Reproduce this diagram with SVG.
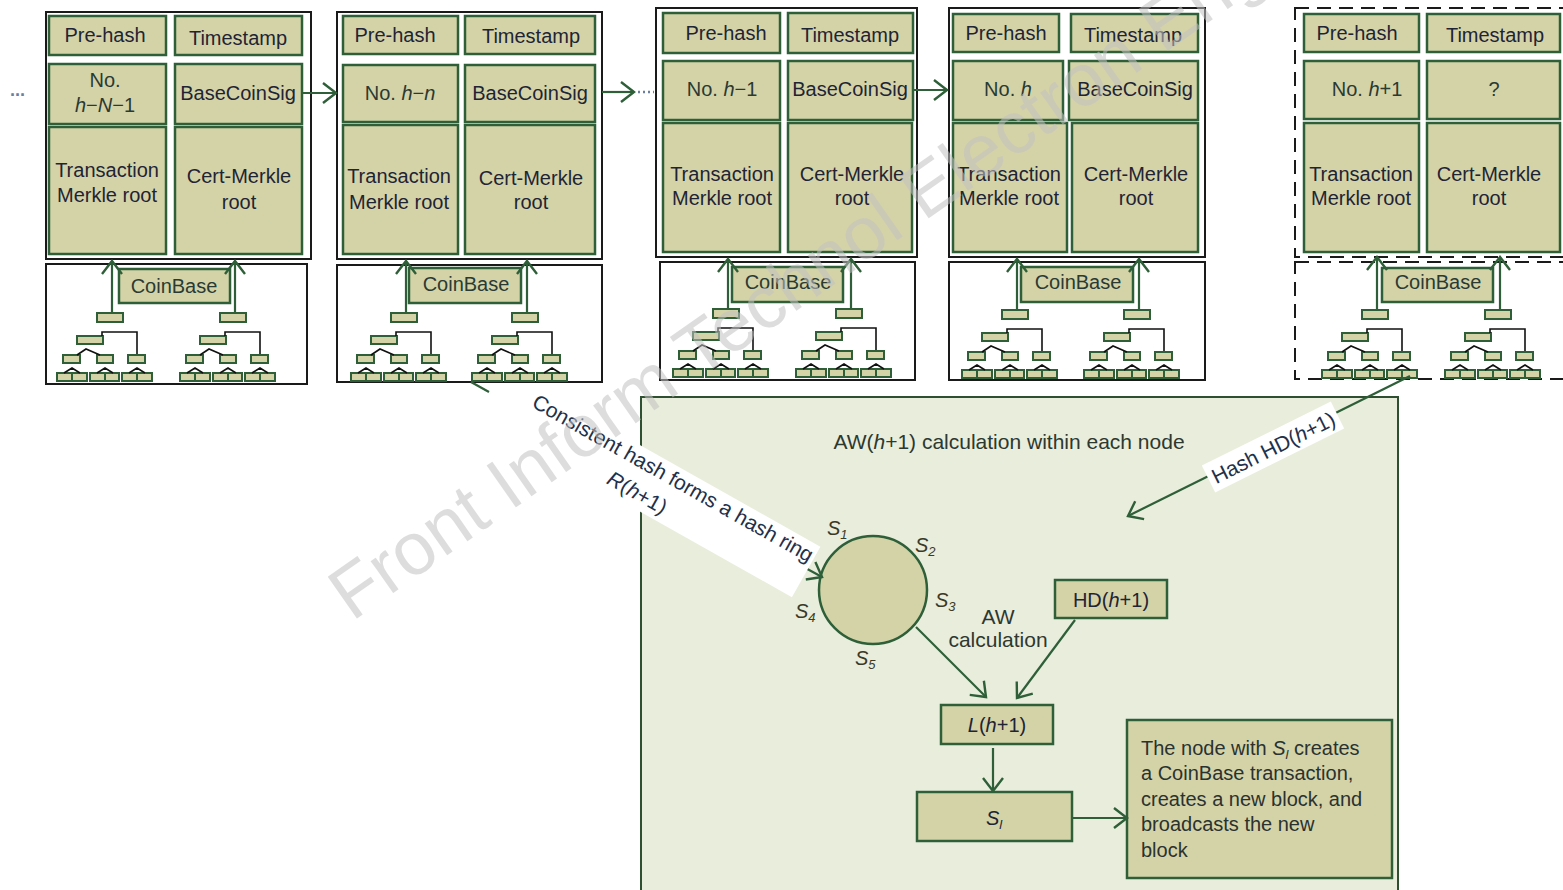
<svg xmlns="http://www.w3.org/2000/svg" width="1563" height="890" viewBox="0 0 1563 890">
<defs>
<style>
.cell{fill:#d4d3a8;stroke:#2e5f38;stroke-width:2.5}
.outer{fill:#fff;stroke:#1a1a1a;stroke-width:2}
.dash{fill:#fff;stroke:#1a1a1a;stroke-width:2;stroke-dasharray:14 8}
.t{font-family:"Liberation Sans",Arial,sans-serif;font-size:20px;fill:#1f2435;text-anchor:middle}
.tg{font-family:"Liberation Sans",Arial,sans-serif;font-size:20px;fill:#2a3a33;text-anchor:middle}
.tl{font-family:"Liberation Sans",Arial,sans-serif;font-size:20px;fill:#2a3230}
.i{font-style:italic}
.sub{font-size:13px}
.con{fill:none;stroke:#2e5f38;stroke-width:2.2}
.tn{fill:#d4d3a8;stroke:#2e5f38;stroke-width:2}
.tk{fill:none;stroke:#111;stroke-width:1.6}
.dots{fill:none;stroke:#6a7fa0;stroke-width:2.5;stroke-dasharray:2 3}
</style>
<marker id="arr" viewBox="-16 -13 19 26" refX="0" refY="0" markerWidth="19" markerHeight="26" markerUnits="userSpaceOnUse" orient="auto">
<path d="M-13,-10 L0,0 L-13,10" fill="none" stroke="#2e5f38" stroke-width="2.4"/>
</marker>
<g id="sub">
<rect class="tn" x="0" y="0" width="26" height="9"/>
<rect class="tn" x="-20" y="23" width="26" height="8"/>
<path class="tk" d="M5,23 V19 H40 V42"/>
<rect class="tn" x="-34" y="42" width="17" height="8"/>
<rect class="tn" x="0" y="42" width="16" height="8"/>
<rect class="tn" x="31" y="42" width="17" height="8"/>
<path class="tk" d="M-20,42 L-11,36 L3,42"/>
<rect class="tn" x="-40" y="60" width="15" height="8"/>
<rect class="tn" x="-25" y="60" width="15" height="8"/>
<rect class="tn" x="-7" y="60" width="15" height="8"/>
<rect class="tn" x="8" y="60" width="14" height="8"/>
<rect class="tn" x="25" y="60" width="15" height="8"/>
<rect class="tn" x="40" y="60" width="15" height="8"/>
<path class="tk" d="M-33,60 L-25,55 L-17,60 M0,60 L8,55 L16,60 M32,60 L40,55 L48,60"/>
</g>
</defs>
<rect x="0" y="0" width="1563" height="890" fill="#fff"/>

<!-- bottom panel -->
<g id="panel">
<rect x="641" y="397" width="757" height="500" fill="#e9eddc" stroke="#2e4f30" stroke-width="2"/>
<text class="t" x="1009" y="449" style="font-size:21px;fill:#2d3830">AW(<tspan class="i">h</tspan>+1) calculation within each node</text>
</g>

<!-- Block 1 -->
<g id="block1">
<rect class="outer" x="46" y="12" width="265" height="247"/>
<rect class="cell" x="49" y="16" width="117" height="39"/>
<rect class="cell" x="175" y="16" width="127" height="39"/>
<rect class="cell" x="49" y="64" width="117" height="60"/>
<rect class="cell" x="175" y="64" width="127" height="60"/>
<rect class="cell" x="49" y="127" width="117" height="127"/>
<rect class="cell" x="175" y="127" width="127" height="127"/>
<text class="t" x="105" y="42">Pre-hash</text>
<text class="t" x="238" y="45">Timestamp</text>
<text class="tg" x="105" y="87">No.</text>
<text class="tg" x="105" y="112"><tspan class="i">h</tspan>−<tspan class="i">N</tspan>−1</text>
<text class="t" x="238" y="100">BaseCoinSig</text>
<text class="t" x="107" y="177">Transaction</text>
<text class="t" x="107" y="202">Merkle root</text>
<text class="t" x="239" y="183">Cert-Merkle</text>
<text class="t" x="239" y="209">root</text>
</g>
<g id="tree1">
<rect class="outer" x="46" y="264" width="261" height="120"/>
<rect class="cell" x="119" y="269" width="111" height="34"/>
<text class="tg" x="174" y="293">CoinBase</text>
<use href="#sub" transform="translate(97,313)"/>
<use href="#sub" transform="translate(220,313)"/>
</g>

<!-- Block 2 -->
<g id="block2">
<rect class="outer" x="337" y="12" width="265" height="247"/>
<rect class="cell" x="343" y="16" width="115" height="38"/>
<rect class="cell" x="465" y="16" width="130" height="38"/>
<rect class="cell" x="343" y="65" width="115" height="57"/>
<rect class="cell" x="465" y="65" width="130" height="57"/>
<rect class="cell" x="343" y="125" width="115" height="129"/>
<rect class="cell" x="465" y="125" width="130" height="129"/>
<text class="t" x="395" y="42">Pre-hash</text>
<text class="t" x="531" y="43">Timestamp</text>
<text class="tg" x="400" y="100">No. <tspan class="i">h</tspan>−<tspan class="i">n</tspan></text>
<text class="t" x="530" y="100">BaseCoinSig</text>
<text class="t" x="399" y="183">Transaction</text>
<text class="t" x="399" y="209">Merkle root</text>
<text class="t" x="531" y="185">Cert-Merkle</text>
<text class="t" x="531" y="209">root</text>
</g>
<g id="tree2">
<rect class="outer" x="337" y="265" width="265" height="117"/>
<rect class="cell" x="409" y="268" width="112" height="35"/>
<text class="tg" x="466" y="291">CoinBase</text>
<use href="#sub" transform="translate(391,313)"/>
<use href="#sub" transform="translate(512,313)"/>
</g>

<!-- Block 3 -->
<g id="block3">
<rect class="outer" x="656" y="8" width="261" height="249"/>
<rect class="cell" x="663" y="13" width="117" height="40"/>
<rect class="cell" x="788" y="13" width="125" height="40"/>
<rect class="cell" x="663" y="61" width="117" height="59"/>
<rect class="cell" x="788" y="61" width="125" height="59"/>
<rect class="cell" x="663" y="123" width="117" height="129"/>
<rect class="cell" x="788" y="123" width="124" height="129"/>
<text class="t" x="726" y="40">Pre-hash</text>
<text class="t" x="850" y="42">Timestamp</text>
<text class="tg" x="722" y="96">No. <tspan class="i">h</tspan>−1</text>
<text class="t" x="850" y="96">BaseCoinSig</text>
<text class="t" x="722" y="181">Transaction</text>
<text class="t" x="722" y="205">Merkle root</text>
<text class="t" x="852" y="181">Cert-Merkle</text>
<text class="t" x="852" y="205">root</text>
</g>
<g id="tree3">
<rect class="outer" x="660" y="262" width="255" height="118"/>
<rect class="cell" x="732" y="267" width="111" height="35"/>
<text class="tg" x="788" y="289">CoinBase</text>
<use href="#sub" transform="translate(713,309)"/>
<use href="#sub" transform="translate(836,309)"/>
</g>

<!-- Block 4 -->
<g id="block4">
<rect class="outer" x="949" y="8" width="256" height="249"/>
<rect class="cell" x="953" y="14" width="106" height="38"/>
<rect class="cell" x="1071" y="14" width="127" height="38"/>
<rect class="cell" x="953" y="61" width="110" height="59"/>
<rect class="cell" x="1069" y="61" width="129" height="59"/>
<rect class="cell" x="953" y="123" width="114" height="129"/>
<rect class="cell" x="1072" y="123" width="126" height="129"/>
<text class="t" x="1006" y="40">Pre-hash</text>
<text class="t" x="1133" y="42">Timestamp</text>
<text class="tg" x="1008" y="96">No. <tspan class="i">h</tspan></text>
<text class="t" x="1135" y="96">BaseCoinSig</text>
<text class="t" x="1009" y="181">Transaction</text>
<text class="t" x="1009" y="205">Merkle root</text>
<text class="t" x="1136" y="181">Cert-Merkle</text>
<text class="t" x="1136" y="205">root</text>
</g>
<g id="tree4">
<rect class="outer" x="949" y="262" width="256" height="118"/>
<rect class="cell" x="1021" y="267" width="112" height="35"/>
<text class="tg" x="1078" y="289">CoinBase</text>
<use href="#sub" transform="translate(1002,310)"/>
<use href="#sub" transform="translate(1124,310)"/>
</g>

<!-- Block 5 (new block, dashed) -->
<g id="block5">
<rect class="dash" x="1295" y="8" width="285" height="249"/>
<rect class="cell" x="1304" y="14" width="115" height="38"/>
<rect class="cell" x="1427" y="14" width="133" height="38"/>
<rect class="cell" x="1304" y="61" width="115" height="58"/>
<rect class="cell" x="1427" y="61" width="133" height="58"/>
<rect class="cell" x="1304" y="123" width="115" height="129"/>
<rect class="cell" x="1427" y="123" width="133" height="129"/>
<text class="t" x="1357" y="40">Pre-hash</text>
<text class="t" x="1495" y="42">Timestamp</text>
<text class="tg" x="1367" y="96">No. <tspan class="i">h</tspan>+1</text>
<text class="tg" x="1494" y="96">?</text>
<text class="t" x="1361" y="181">Transaction</text>
<text class="t" x="1361" y="205">Merkle root</text>
<text class="t" x="1489" y="181">Cert-Merkle</text>
<text class="t" x="1489" y="205">root</text>
</g>
<g id="tree5">
<rect class="dash" x="1295" y="262" width="285" height="117"/>
<rect class="cell" x="1382" y="268" width="111" height="34"/>
<text class="tg" x="1438" y="289">CoinBase</text>
<use href="#sub" transform="translate(1362,310)"/>
<use href="#sub" transform="translate(1485,310)"/>
</g>

<!-- ring and calculation nodes -->
<g id="ring">
<circle cx="873" cy="590" r="54" fill="#d4d3a8" stroke="#2e5f38" stroke-width="2.5"/>
<text class="tl i" x="827" y="535" style="fill:#3a3a28">S<tspan class="sub" dy="4">1</tspan></text>
<text class="tl i" x="915" y="552" style="fill:#3a3a28">S<tspan class="sub" dy="4">2</tspan></text>
<text class="tl i" x="935" y="607" style="fill:#3a3a28">S<tspan class="sub" dy="4">3</tspan></text>
<text class="tl i" x="795" y="618" style="fill:#3a3a28">S<tspan class="sub" dy="4">4</tspan></text>
<text class="tl i" x="855" y="665" style="fill:#3a3a28">S<tspan class="sub" dy="4">5</tspan></text>
</g>
<g id="aw-label">
<text class="t" x="998" y="624" style="font-size:21px;fill:#2d3830">AW</text>
<text class="t" x="998" y="647" style="font-size:21px;fill:#2d3830">calculation</text>
</g>
<g id="hd">
<rect class="cell" x="1055" y="580" width="112" height="38"/>
<text class="t" x="1111" y="607">HD(<tspan class="i">h</tspan>+1)</text>
</g>
<g id="lh">
<rect class="cell" x="941" y="705" width="112" height="39"/>
<text class="t" x="997" y="732"><tspan class="i">L</tspan>(<tspan class="i">h</tspan>+1)</text>
</g>
<g id="sl">
<rect class="cell" x="917" y="792" width="155" height="49"/>
<text class="t i" x="994" y="825">S<tspan class="sub" dy="4">l</tspan></text>
</g>
<g id="result">
<rect class="cell" x="1127" y="720" width="265" height="158"/>
<text class="tl" x="1141" y="755">The node with <tspan class="i">S</tspan><tspan class="i sub" dy="4">l</tspan><tspan dy="-4"> creates</tspan></text>
<text class="tl" x="1141" y="780">a CoinBase transaction,</text>
<text class="tl" x="1141" y="806">creates a new block, and</text>
<text class="tl" x="1141" y="831">broadcasts the new</text>
<text class="tl" x="1141" y="857">block</text>
</g>

<!-- connectors -->
<g id="connectors">
<text x="10" y="96" style="font-family:'Liberation Sans',Arial,sans-serif;font-size:18px;fill:#6a7fa0;font-weight:bold">...</text>
<path class="con" d="M302,93 H336" marker-end="url(#arr)"/>
<path class="con" d="M602,92 H634" marker-end="url(#arr)"/>
<path class="dots" d="M638,92 H654"/>
<path class="con" d="M913,90 H947" marker-end="url(#arr)"/>
<path class="con" d="M112,313 V261" marker-end="url(#arr)"/>
<path class="con" d="M235,313 V261" marker-end="url(#arr)"/>
<path class="con" d="M406,313 V261" marker-end="url(#arr)"/>
<path class="con" d="M527,313 V261" marker-end="url(#arr)"/>
<path class="con" d="M728,309 V259" marker-end="url(#arr)"/>
<path class="con" d="M851,309 V259" marker-end="url(#arr)"/>
<path class="con" d="M1017,310 V259" marker-end="url(#arr)"/>
<path class="con" d="M1139,310 V259" marker-end="url(#arr)"/>
<path class="con" d="M1377,310 V257" marker-end="url(#arr)"/>
<path class="con" d="M1500,310 V257" marker-end="url(#arr)"/>
<path class="con" d="M471,382 L489,392 M800,565 L822,577" marker-end="url(#arr)"/>
<path class="con" d="M1410,376 L1128,516" marker-end="url(#arr)"/>
<path class="con" d="M916,627 L986,697" marker-end="url(#arr)"/>
<path class="con" d="M1075,620 L1017,698" marker-end="url(#arr)"/>
<path class="con" d="M993,748 V791" marker-end="url(#arr)"/>
<path class="con" d="M1071,818 H1127" marker-end="url(#arr)"/>
</g>

<!-- connector labels -->
<g id="label-ring" transform="translate(672,478) rotate(29.4)">
<rect x="-168" y="-13" width="331" height="58" fill="#fff"/>
<text class="t" x="1" y="7" style="font-size:21px;fill:#22304a">Consistent hash forms a hash ring</text>
<text class="t" x="-23" y="37" style="font-size:21px;fill:#22304a"><tspan class="i">R</tspan>(<tspan class="i">h</tspan>+1)</text>
</g>
<g id="label-hash" transform="translate(1273,447) rotate(-26.4)">
<rect x="-72" y="-15" width="144" height="30" fill="#fff"/>
<text class="t" x="0" y="8" style="font-size:21px;fill:#22304a">Hash HD(<tspan class="i">h</tspan>+1)</text>
</g>

<!-- watermark -->
<text x="352" y="622" transform="rotate(-35 352 622)" style="font-family:'Liberation Sans',Arial,sans-serif;font-size:74px;fill:#c2c2c2;opacity:0.55">Front Inform Technol Electron Eng</text>
</svg>
